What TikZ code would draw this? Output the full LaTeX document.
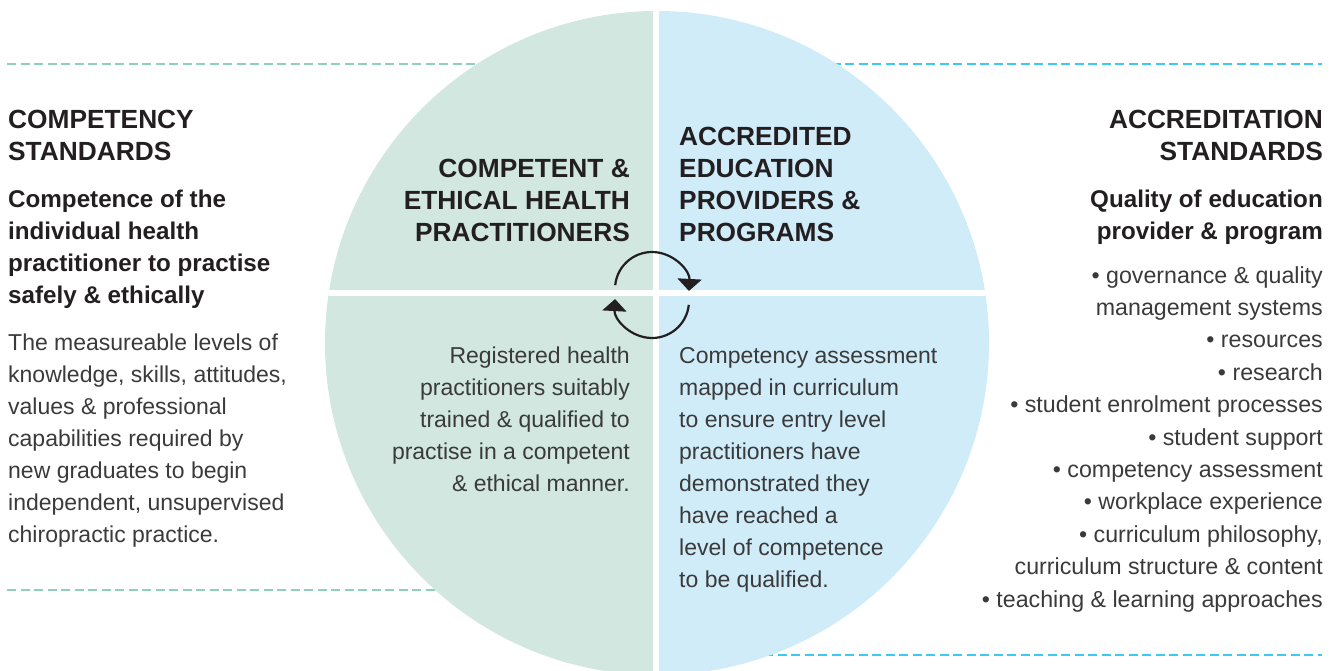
\documentclass[tikz,border=0pt]{standalone}
\usepackage{fontspec}
\setmainfont{Liberation Sans}
\usetikzlibrary{arrows.meta}
\definecolor{ringgreen}{HTML}{D1E7DF}
\definecolor{ringblue}{HTML}{D0ECF9}
\definecolor{dashgreen}{HTML}{8FD0B6}
\definecolor{dashblue}{HTML}{3FC8F2}
\definecolor{inkdark}{HTML}{231F20}
\definecolor{inkbody}{HTML}{3A3A3A}
\begin{document}
\begin{tikzpicture}[x=1pt, y=-1pt,
    headtext/.style={inner sep=0pt, text=inkdark, font=\bfseries\fontsize{26.3}{32}\selectfont},
    subtext/.style={inner sep=0pt, text=inkdark, font=\bfseries\fontsize{24.2}{32}\selectfont},
    bodytext/.style={inner sep=0pt, text=inkbody, font=\fontsize{23}{32}\selectfont},
    sepline/.style={line width=2.5pt, dash pattern=on 9pt off 4.5pt},
    cyclearrow/.style={line width=2.2pt, inkdark, -{Triangle[width=24pt, length=12pt]}}]
    \useasboundingbox (0,0) rectangle (1338,670);
    % 虚线
                                        \draw[sepline, dashgreen] (7,64) -- (656,64); % 左上
                                        \draw[sepline, dashgreen] (7,590) -- (656,590); % 左下
                                        \draw[sepline, dashblue] (656,64) -- (1322,64); % 右上
                                        \draw[sepline, dashblue] (656,655) -- (1322,655); % 右下
    % 圆
    \begin{scope}
                                        \clip (657,343) circle[radius=332];
                                        \fill[ringgreen] (300,0) rectangle (656,700);
                                        \fill[ringblue] (656,0) rectangle (1000,700);
                                        \draw[white, line width=6pt] (656,0) -- (656,700); % 竖缝
                                        \draw[white, line width=6pt] (300,293) -- (1000,293); % 横缝
    \end{scope}
    % 循环箭头
                                        \draw[cyclearrow] (652,289) ++(-174:37) arc[start angle=-174, end angle=3, radius=37];
                                        \draw[cyclearrow] (652,301) ++(6:37) arc[start angle=6, end angle=183, radius=37];
    % 左栏
    \node[headtext, anchor=north west, align=left] (comphead) at (8,110) {COMPETENCY\\STANDARDS};
    \node[subtext, anchor=north west, align=left] (compsub) at (8,190) {Competence of the\\individual health\\practitioner to practise\\safely \& ethically};
    \node[bodytext, anchor=north west, align=left] (compbody) at (8,334) {The measureable levels of\\knowledge, skills, attitudes,\\values \& professional\\capabilities required by\\new graduates to begin\\independent, unsupervised\\chiropractic practice.};
    % 圆内左
    \node[headtext, anchor=north east, align=right] (practhead) at (630,159) {COMPETENT \&\\ETHICAL HEALTH\\PRACTITIONERS};
    \node[bodytext, anchor=north east, align=right] (practbody) at (630,347) {Registered health\\practitioners suitably\\trained \& qualified to\\practise in a competent\\\& ethical manner.};
    % 圆内右
    \node[headtext, anchor=north west, align=left] (provhead) at (679,127) {ACCREDITED\\EDUCATION\\PROVIDERS \&\\PROGRAMS};
    \node[bodytext, anchor=north west, align=left] (provbody) at (679,347) {Competency assessment\\mapped in curriculum\\to ensure entry level\\practitioners have\\demonstrated they\\have reached a\\level of competence\\to be qualified.};
    % 右栏
    \node[headtext, anchor=north east, align=right] (accrhead) at (1323,110) {ACCREDITATION\\STANDARDS};
    \node[subtext, anchor=north east, align=right] (accrsub) at (1323,190) {Quality of education\\provider \& program};
    \node[bodytext, anchor=north east, align=right, font=\fontsize{23.2}{32.4}\selectfont] (accrbody) at (1323,266) {• governance \& quality\\management systems\\• resources\\• research\\• student enrolment processes\\• student support\\• competency assessment\\• workplace experience\\• curriculum philosophy,\\curriculum structure \& content\\• teaching \& learning approaches};
\end{tikzpicture}
\end{document}
